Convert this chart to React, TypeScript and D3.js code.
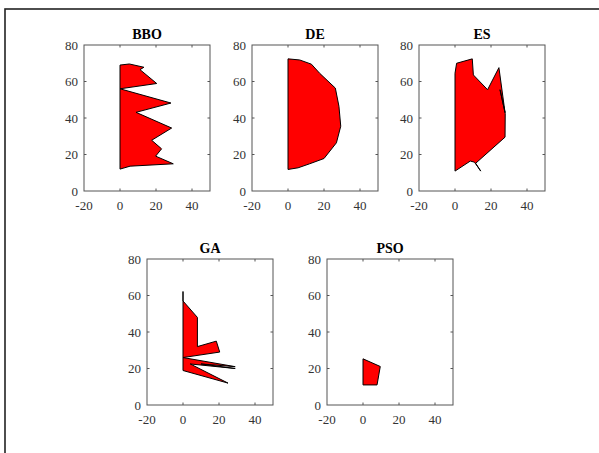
import React, { useEffect, useRef } from "react";
import * as d3 from "d3";

// polygon vertices [x, y]
const bbo: [number, number][] = [
  [0, 12], [0, 69], [5.2, 69.6], [13.3, 67.8], [11.1, 66.5], [20.4, 58.9],
  [0, 56], [28.3, 48.2], [8.9, 43.1], [28.7, 34.5], [17.6, 27.8], [23.1, 23.1],
  [19.8, 19.1], [29.6, 14.9], [5.6, 13.6],
];
const de: [number, number][] = [
  [0, 11.8], [0, 72.4], [6.5, 71.8], [13, 69.5], [17.6, 64.5], [26.3, 56.4],
  [28.3, 46.4], [29.3, 35.5], [26.9, 26.4], [20, 17.8], [12, 14.9], [5.6, 12.7],
];
const es: [number, number][] = [
  [0, 10.9], [0, 64.5], [0.9, 70], [9.6, 72.4], [10.2, 63.6], [18.1, 55.5],
  [24.4, 67.6], [27.8, 43], [25, 55.5], [27.9, 42.5], [27.8, 29.5], [11.5, 15.2],
  [14.3, 10.9], [10.8, 15.8], [8.5, 16.4],
];
const ga: [number, number][] = [
  [0, 18.9], [0, 62.2], [0, 57], [8, 48], [8, 32], [18.5, 35], [20.4, 29],
  [0, 26], [29, 21], [10, 22.5], [29, 20], [4, 22.5], [25, 12],
];
const pso: [number, number][] = [
  [0, 11], [0, 25.3], [9.6, 21.1], [7.8, 11],
];

const titles = ["BBO", "DE", "ES", "GA", "PSO"];
const shapes = [bbo, de, es, ga, pso];
const xTicks = [-20, 0, 20, 40];
const yTicks = [0, 20, 40, 60, 80];

// panel boxes: left, top (pixels)
const panels = [
  { left: 84, top: 45 },
  { left: 252, top: 45 },
  { left: 419, top: 45 },
  { left: 147, top: 259 },
  { left: 327, top: 259 },
];
const pw = 126;
const ph = 146;
const serif = "'Liberation Serif', 'Times New Roman', serif";

export default function App() {
  const svgRef = useRef<SVGSVGElement | null>(null);

  useEffect(() => {
    const svg = d3.select(svgRef.current);
    svg.selectAll("*").remove();

    // outer figure frame
    svg.append("rect")
      .attr("x", 5).attr("y", 9)
      .attr("width", 700).attr("height", 600)
      .attr("fill", "none")
      .attr("stroke", "#222")
      .attr("stroke-width", 1.6);

    panels.forEach((p, i) => {
      const g = svg.append("g").attr("transform", `translate(${p.left},${p.top})`);
      const x = d3.scaleLinear().domain([-20, 50]).range([0, pw]);
      const y = d3.scaleLinear().domain([0, 80]).range([ph, 0]);

      // polygon
      g.append("path")
        .datum(shapes[i])
        .attr("fill", "#ff0000")
        .attr("stroke", "#000")
        .attr("stroke-width", 1)
        .attr("d", d3.line<[number, number]>()
          .x((d) => x(d[0]))
          .y((d) => y(d[1]))
          .curve(d3.curveLinearClosed));

      // box
      g.append("rect")
        .attr("x", 0).attr("y", 0)
        .attr("width", pw).attr("height", ph)
        .attr("fill", "none")
        .attr("stroke", "#555")
        .attr("stroke-width", 1);

      // inward ticks on all sides
      const tl = 2.5;
      xTicks.filter((t) => t > -20 && t < 50).forEach((t) => {
        g.append("line").attr("x1", x(t)).attr("x2", x(t)).attr("y1", ph).attr("y2", ph - tl).attr("stroke", "#555");
        g.append("line").attr("x1", x(t)).attr("x2", x(t)).attr("y1", 0).attr("y2", tl).attr("stroke", "#555");
      });
      yTicks.filter((t) => t > 0 && t < 80).forEach((t) => {
        g.append("line").attr("x1", 0).attr("x2", tl).attr("y1", y(t)).attr("y2", y(t)).attr("stroke", "#555");
        g.append("line").attr("x1", pw).attr("x2", pw - tl).attr("y1", y(t)).attr("y2", y(t)).attr("stroke", "#555");
      });

      // tick labels
      g.selectAll(".xl")
        .data(xTicks)
        .join("text")
        .attr("x", (d) => x(d))
        .attr("y", ph + 19)
        .attr("text-anchor", "middle")
        .style("font-family", serif)
        .style("font-size", "13px")
        .attr("fill", "#333")
        .text((d) => String(d));

      g.selectAll(".yl")
        .data(yTicks)
        .join("text")
        .attr("x", -6)
        .attr("y", (d) => y(d) + 4.5)
        .attr("text-anchor", "end")
        .style("font-family", serif)
        .style("font-size", "13px")
        .attr("fill", "#333")
        .text((d) => String(d));

      // title
      g.append("text")
        .attr("x", pw / 2)
        .attr("y", -6)
        .attr("text-anchor", "middle")
        .style("font-family", serif)
        .style("font-weight", "bold")
        .style("font-size", "14px")
        .attr("fill", "#000")
        .text(titles[i]);
    });
  }, []);

  return (
    <svg
      ref={svgRef}
      width={599}
      height={453}
      style={{ position: "absolute", left: 0, top: 0, background: "#fff" }}
    />
  );
}
